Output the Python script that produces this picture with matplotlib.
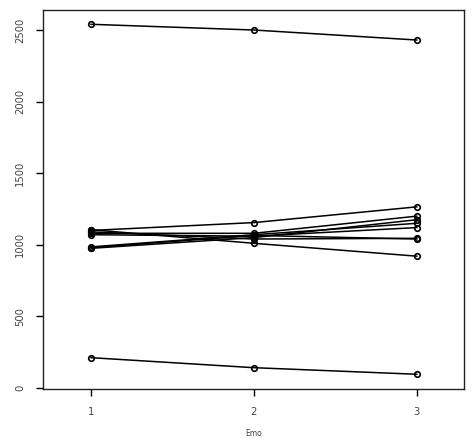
import matplotlib
matplotlib.use("Agg")
import matplotlib.pyplot as plt

x = [1, 2, 3]
series = [
    [2542, 2502, 2432],
    [1100, 1155, 1265],
    [1080, 1080, 1200],
    [975, 1050, 1175],
    [985, 1070, 1150],
    [1070, 1060, 1120],
    [1090, 1040, 1045],
    [980, 1065, 1040],
    [1105, 1010, 920],
    [210, 140, 94],
]
xticks = [1, 2, 3]
yticks = [0, 500, 1000, 1500, 2000, 2500]
xlabel = "Emo"

fig = plt.figure(figsize=(4.72, 4.41), dpi=100)
ax = fig.add_axes([43/472, 1-388.7/441, (464-43)/472, (388.7-10)/441])
for s in series:
    ax.plot(x, s, color="black", lw=1.1, marker="o", markersize=4.0,
            markerfacecolor="none", markeredgecolor="black", markeredgewidth=1.2)
ax.set_xlim(0.705, 3.29)
ax.set_ylim(-7, 2642)
ax.set_xticks(xticks)
ax.set_yticks(yticks)
ax.tick_params(axis="both", direction="out", length=5, width=1, labelsize=7.2,
               labelcolor="#444444", pad=8)
ax.tick_params(axis="y", labelrotation=90)
for lbl in ax.get_yticklabels():
    lbl.set_va("center")
for sp in ax.spines.values():
    sp.set_color("#222222")
    sp.set_linewidth(1.0)
ax.set_xlabel(xlabel, fontsize=5.5, color="#444444", labelpad=9)
fig.savefig("out.png", dpi=100)
